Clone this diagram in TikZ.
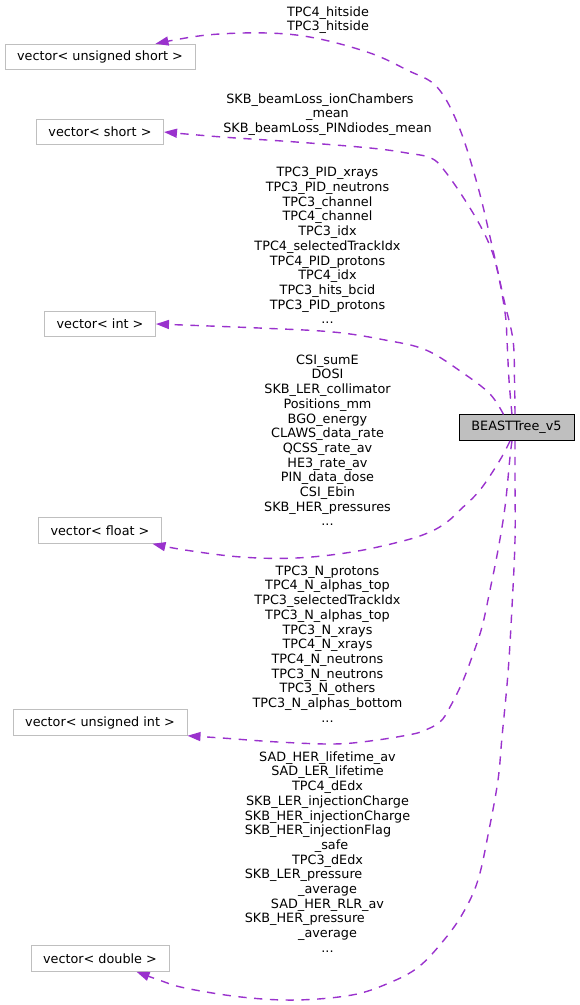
\documentclass[tikz,border=0pt]{standalone}
\usepackage{fontspec}
\setmainfont{DejaVu Sans}
\usepackage{calc}
\usetikzlibrary{arrows.meta}
\definecolor{edgec}{HTML}{9A32CD}
\definecolor{boxgray}{HTML}{BFBFBF}
\begin{document}
\begin{tikzpicture}[x=1pt,y=-1pt,
  font=\fontsize{12.8}{14.7}\selectfont,
  vbox/.style={draw=boxgray, line width=1pt, fill=white, minimum height=25.5pt, inner sep=0pt},
  mainbox/.style={draw=black, fill=boxgray, line width=1pt, minimum height=25.5pt, minimum width=115pt, inner sep=0pt},
  dep/.style={draw=edgec, line width=1.4pt, dash pattern=on 8.3pt off 7.5pt, -{Triangle[length=13pt,width=9pt]}},
  lbl/.style={align=center, anchor=base, inner sep=0pt}]
\useasboundingbox (0,0) rectangle (579,1005);

\node[vbox, minimum width=190pt] (us) at (100,57) {vector< unsigned short >};
\node[vbox, minimum width=127pt] (sh) at (100,132) {vector< short >};
\node[vbox, minimum width=111pt] (in) at (100,324) {vector< int >};
\node[vbox, minimum width=123pt] (fl) at (100,530.5) {vector< float >};
\node[vbox, minimum width=174pt] (ui) at (100,722.5) {vector< unsigned int >};
\node[vbox, minimum width=138pt] (db) at (100,958.5) {vector< double >};
\node[mainbox] (bt) at (516.5,427.7) {BEASTTree\_v5};

\coordinate (s1) at ([xshift=-1.5pt]bt.north);
\coordinate (s2) at ([xshift=-4.5pt]bt.north);
\coordinate (s3) at ([xshift=-13pt]bt.north);
\coordinate (s4) at ([xshift=-6.5pt]bt.south);
\coordinate (s5) at ([xshift=-4.5pt]bt.south);
\coordinate (s6) at ([xshift=-1.5pt]bt.south);
\coordinate (t1) at ([xshift=-40pt]us.north east);
\coordinate (t2) at (sh.east);
\coordinate (t3) at (in.east);
\coordinate (t4) at ([xshift=-9.5pt]fl.south east);
\coordinate (t5) at (ui.south east);
\coordinate (t6) at ([xshift=-33pt]db.south east);

\draw[dep] plot[smooth, tension=0.6] coordinates {(s1) (514.5,380) (513,340) (504,300) (493,250) (478,187) (459,127) (437,87) (407,70) (370,53) (315,38) (267,33) (207,35) (t1)};
\draw[dep] plot[smooth, tension=0.6] coordinates {(s2) (509,380) (507,340) (505.6,317) (500,283) (492.6,253) (481,227) (463,197) (444,170) (431,158) (407,153) (370,148) (296,142) (222,137) (t2)};
\draw[dep] plot[smooth, tension=0.6] coordinates {(s3) (490,394) (463,373) (426,350) (385,340) (333,332) (259,328) (t3)};
\draw[dep] plot[smooth, tension=0.6] coordinates {(s4) (500,460) (480,490) (460,510) (447,522) (430,532) (403,541) (352,552) (296,558) (241,557) (185,550) (t4)};
\draw[dep] plot[smooth, tension=0.6] coordinates {(s5) (510,457) (505,507) (498,550) (490,590) (482,627) (472,657) (462,683) (450,707) (440,722) (423,731) (408,735) (370,741) (333,744) (278,742) (222,738) (t5)};
\draw[dep] plot[smooth, tension=0.6] coordinates {(s6) (515,480) (515,540) (512,607) (508,673) (502,737) (498,780) (489,830) (478,880) (463,913) (444,940) (418.5,967) (389,983) (352,995) (296,1000) (241,997) (185,988) (159,980) (t6)};

\node[lbl] (l1) at (328,30.9) {TPC4\_hitside\\TPC3\_hitside};
\node[lbl] (l2) at (327.5,132.6) {SKB\_beamLoss\_ionChambers\hspace*{15pt}\\\_mean\\SKB\_beamLoss\_PINdiodes\_mean};
\node[lbl] (l3) at (327.5,323.8) {TPC3\_PID\_xrays\\TPC3\_PID\_neutrons\\TPC3\_channel\\TPC4\_channel\\TPC3\_idx\\TPC4\_selectedTrackIdx\\TPC4\_PID\_protons\\TPC4\_idx\\TPC3\_hits\_bcid\\TPC3\_PID\_protons\\...};
\node[lbl] (l4) at (327.5,525.9) {CSI\_sumE\\DOSI\\SKB\_LER\_collimator\\Positions\_mm\\BGO\_energy\\CLAWS\_data\_rate\\QCSS\_rate\_av\\HE3\_rate\_av\\PIN\_data\_dose\\CSI\_Ebin\\SKB\_HER\_pressures\\...};
\node[lbl] (l5) at (327.5,722.2) {TPC3\_N\_protons\\TPC4\_N\_alphas\_top\\TPC3\_selectedTrackIdx\\TPC3\_N\_alphas\_top\\TPC3\_N\_xrays\\TPC4\_N\_xrays\\TPC4\_N\_neutrons\\TPC3\_N\_neutrons\\TPC3\_N\_others\\TPC3\_N\_alphas\_bottom\\...};
\node[lbl] (l6) at (327.5,952.3) {SAD\_HER\_lifetime\_av\\SAD\_LER\_lifetime\\TPC4\_dEdx\\SKB\_LER\_injectionCharge\\SKB\_HER\_injectionCharge\\\makebox[\widthof{SKB\_HER\_injectionCharge}][l]{SKB\_HER\_injectionFlag}\\\hspace*{8pt}\_safe\\TPC3\_dEdx\\\makebox[\widthof{SKB\_HER\_injectionCharge}][l]{SKB\_LER\_pressure}\\\_average\\SAD\_HER\_RLR\_av\\\makebox[\widthof{SKB\_HER\_injectionCharge}][l]{SKB\_HER\_pressure}\\\_average\\...};
\end{tikzpicture}
\end{document}
